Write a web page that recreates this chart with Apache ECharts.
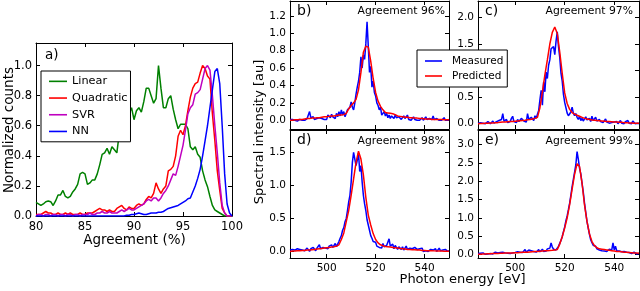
<!DOCTYPE html>
<html><head><meta charset="utf-8">
<script src="https://cdn.jsdelivr.net/npm/echarts@6/dist/echarts.min.js"></script>
<style>html,body{margin:0;padding:0;background:#fff}#chart{width:640px;height:291px}</style>
</head><body><div id="chart"></div>
<script>
// ---------- Panel a: histogram of agreement (x grid 80..100 step 0.25) ----------
const linearCounts = [
  0.09,0.08,0.07,0.08, 0.095,0.10,0.095,0.07, 0.10,0.14,0.14,0.17, 0.13,0.12,0.13,0.16,
  0.18,0.21,0.28,0.29, 0.28,0.21,0.22,0.24, 0.24,0.28,0.34,0.41, 0.42,0.45,0.41,0.46,
  0.44,0.42,0.55,0.61, 0.59,0.62,0.68,0.72, 0.64,0.70,0.72,0.69, 0.76,0.85,0.85,0.80,
  0.75,0.78,1.00,0.85, 0.72,0.72,0.78,0.80, 0.71,0.64,0.58,0.61, 0.61,0.61,0.58,0.46,
  0.44,0.46,0.41,0.39, 0.30,0.24,0.195,0.13, 0.07,0.04,0.03,0.02, 0.01,0.00,0.00,0.00, 0.00];
const quadraticCounts = [
  0.01,0.01,0.01,0.02, 0.03,0.02,0.02,0.01, 0.01,0.02,0.01,0.01, 0.02,0.01,0.02,0.01,
  0.01,0.01,0.02,0.01, 0.01,0.02,0.02,0.02, 0.03,0.04,0.05,0.04, 0.04,0.03,0.04,0.03,
  0.03,0.05,0.06,0.07, 0.05,0.04,0.06,0.05, 0.05,0.07,0.08,0.07, 0.08,0.11,0.13,0.12,
  0.15,0.22,0.18,0.15, 0.18,0.20,0.30,0.31, 0.33,0.40,0.53,0.57, 0.54,0.60,0.70,0.79,
  0.85,0.88,0.89,0.95, 1.00,0.98,0.93,0.91, 0.68,0.50,0.30,0.17, 0.05,0.02,0.00,0.00, 0.00];
const svrCounts = [
  0.00,0.01,0.01,0.00, 0.01,0.01,0.00,0.01, 0.01,0.00,0.01,0.01, 0.00,0.01,0.01,0.00,
  0.01,0.01,0.00,0.01, 0.01,0.01,0.02,0.01, 0.01,0.02,0.02,0.03, 0.02,0.02,0.03,0.02,
  0.02,0.02,0.03,0.04, 0.03,0.04,0.05,0.04, 0.04,0.05,0.06,0.07, 0.08,0.10,0.11,0.10,
  0.12,0.12,0.10,0.12, 0.15,0.17,0.20,0.24, 0.28,0.27,0.33,0.40, 0.47,0.57,0.68,0.72,
  0.74,0.81,0.82,0.84, 0.91,0.98,1.00,0.97, 0.80,0.60,0.42,0.22, 0.07,0.02,0.00,0.00, 0.00];
const nnCounts = [
  0,0,0,0, 0,0,0,0, 0,0,0,0, 0,0,0,0, 0,0,0,0, 0,0,0,0, 0,0,0,0, 0,0,0,0, 0,0,0,0,
  0,0.005,0.005,0.01, 0.01,0.015,0.02,0.015, 0.01,0.01,0.015,0.02, 0.02,0.02,0.025,0.025,
  0.03,0.04,0.05,0.055, 0.06,0.065,0.07,0.08, 0.09,0.10,0.115,0.12, 0.16,0.20,0.25,0.31,
  0.40,0.50,0.60,0.72, 0.84,0.96,0.98,0.88, 0.60,0.28,0.08,0.02, 0.00];

// ---------- Spectra: measured at 0.5 eV (485..550), predicted at 1 eV ----------
const measuredB = [
  0.01,0.00,0.01,0.00,0.00,0.01,-0.01,0.00,0.01,0.00,
  0.00,0.01,0.00,0.01,0.02,0.04,0.10,0.03,0.02,0.04,
  0.01,0.03,0.02,0.00,0.03,0.01,0.02,0.00,0.01,0.03,
  0.01,0.06,0.08,0.03,0.07,0.04,0.06,0.02,0.08,0.04,
  0.10,0.05,0.12,0.06,0.10,0.04,0.08,0.12,0.10,0.15,
  0.21,0.15,0.12,0.20,0.30,0.38,0.45,0.55,0.73,0.60,
  0.75,0.70,0.88,1.13,0.85,0.55,0.62,0.38,0.45,0.32,
  0.28,0.20,0.17,0.12,0.15,0.06,0.04,0.10,0.05,0.08,
  0.03,0.06,0.02,0.05,0.04,0.02,0.06,0.03,0.01,0.04,
  0.03,0.01,0.03,0.05,0.02,0.04,0.06,0.01,0.03,0.00,
  0.02,0.04,0.01,0.03,0.00,0.02,0.00,0.01,0.03,0.00,
  0.01,0.04,0.01,0.00,0.02,0.00,0.01,0.05,0.01,0.00,
  0.02,0.04,0.00,0.02,0.00,0.01,0.03,0.00,0.01,0.00,
  0.01];
const predictedB = [
  0.00,0.00,0.005,0.005,0.01, 0.01,0.015,0.02,0.02,0.025, 0.025,0.03,0.03,0.035,0.04,
  0.04,0.045,0.05,0.05,0.055, 0.06,0.06,0.065,0.08,0.13, 0.17,0.20,0.24,0.35,0.55,
  0.78,0.85,0.84,0.68,0.48, 0.32,0.22,0.16,0.12,0.09, 0.085,0.08,0.075,0.065,0.05,
  0.045,0.04,0.035,0.035,0.03, 0.03,0.025,0.025,0.02,0.02, 0.015,0.015,0.015,0.01,0.01,
  0.01,0.01,0.01,0.005,0.005, 0.005];
const measuredC = [
  0.01,0.00,0.02,0.00,0.01,0.03,0.00,0.02,0.04,0.01,
  0.00,0.03,0.05,0.01,0.02,0.04,0.01,0.06,0.03,0.08,
  0.19,0.05,0.03,0.08,0.02,0.05,0.04,0.10,0.14,0.04,
  0.06,0.02,0.08,0.04,0.03,0.10,0.13,0.05,0.08,0.03,
  0.19,0.08,0.05,0.12,0.09,0.06,0.15,0.10,0.18,0.25,
  0.45,0.63,0.35,0.79,0.60,0.97,0.85,1.10,1.20,1.41,
  1.38,1.45,1.30,1.55,1.73,1.45,1.25,0.95,0.80,0.55,
  0.40,0.30,0.20,0.15,0.18,0.22,0.31,0.20,0.15,0.19,
  0.12,0.08,0.14,0.06,0.10,0.05,0.09,0.13,0.07,0.05,
  0.10,0.04,0.14,0.06,0.09,0.12,0.05,0.03,0.08,0.04,
  0.06,0.02,0.05,0.09,0.03,0.05,0.01,0.04,0.02,0.05,
  0.03,0.01,0.04,0.00,0.03,0.06,0.01,0.02,0.00,0.04,
  0.02,0.06,0.01,0.03,0.00,0.05,0.02,0.00,0.03,0.01,
  0.00];
const predictedC = [
  0.00,0.005,0.005,0.01,0.01, 0.015,0.015,0.02,0.02,0.025, 0.03,0.03,0.035,0.04,0.04,
  0.045,0.05,0.055,0.06,0.065, 0.075,0.08,0.09,0.10,0.12, 0.30,0.60,0.92,1.20,1.50,
  1.72,1.82,1.70,1.35,0.95, 0.58,0.38,0.27,0.21,0.18, 0.16,0.14,0.12,0.10,0.09,
  0.08,0.07,0.065,0.06,0.055, 0.05,0.045,0.04,0.04,0.035, 0.03,0.03,0.025,0.025,0.02,
  0.02,0.015,0.015,0.01,0.01, 0.01];
const measuredD = [
  0.02,0.00,0.03,0.01,0.02,0.00,0.04,0.01,0.03,0.00,
  0.02,0.04,0.01,0.03,0.05,0.02,0.00,0.04,0.02,0.06,
  0.03,0.01,0.05,0.02,0.10,0.04,0.02,0.06,0.03,0.05,
  0.07,0.04,0.08,0.05,0.10,0.06,0.09,0.12,0.07,0.11,
  0.15,0.20,0.24,0.32,0.36,0.45,0.50,0.62,0.75,0.85,
  1.05,1.35,1.50,1.40,1.30,1.38,1.49,1.21,1.30,1.05,
  0.85,0.72,0.62,0.48,0.40,0.32,0.24,0.20,0.15,0.13,
  0.14,0.08,0.10,0.06,0.09,0.05,0.12,0.07,0.10,0.09,
  0.06,0.19,0.08,0.05,0.11,0.04,0.09,0.06,0.03,0.07,
  0.05,0.03,0.07,0.02,0.05,0.08,0.03,0.01,0.05,0.02,
  0.04,0.02,0.06,0.09,0.03,0.01,0.04,0.02,0.05,0.00,
  0.03,0.01,0.04,0.00,0.02,0.03,0.00,0.02,0.01,0.04,
  0.00,0.02,0.05,0.01,0.00,0.02,0.00,0.03,0.01,0.00,
  0.01];
const predictedD = [
  0.00,0.005,0.005,0.01,0.01, 0.015,0.015,0.02,0.02,0.025, 0.03,0.035,0.04,0.045,0.05,
  0.055,0.06,0.065,0.07,0.08, 0.10,0.18,0.28,0.45,0.62, 0.85,1.10,1.35,1.52,1.40,
  1.16,0.82,0.55,0.40,0.27, 0.18,0.13,0.10,0.085,0.075, 0.07,0.065,0.06,0.055,0.05,
  0.045,0.04,0.035,0.03,0.03, 0.025,0.025,0.02,0.02,0.015, 0.015,0.01,0.01,0.01,0.008,
  0.006,0.005,0.005,0.004,0.003, 0.003];
const measuredE = [
  0.02,0.00,0.03,0.01,0.04,0.02,0.00,0.03,0.01,0.04,
  0.02,0.05,0.01,0.03,0.06,0.02,0.04,0.01,0.05,0.03,
  0.06,0.02,0.04,0.07,0.03,0.05,0.02,0.06,0.04,0.08,
  0.05,0.03,0.07,0.04,0.06,0.10,0.05,0.08,0.13,0.06,
  0.09,0.12,0.07,0.10,0.05,0.08,0.11,0.06,0.09,0.13,
  0.07,0.10,0.14,0.08,0.12,0.09,0.15,0.11,0.17,0.31,
  0.20,0.14,0.13,0.12,0.15,0.22,0.30,0.38,0.48,0.62,
  0.75,0.92,1.05,1.22,1.40,1.62,1.85,2.05,2.25,2.45,
  2.81,2.60,2.35,2.20,1.95,1.70,1.40,1.15,0.90,0.72,
  0.55,0.40,0.32,0.25,0.20,0.22,0.15,0.18,0.12,0.14,
  0.10,0.13,0.09,0.12,0.08,0.10,0.14,0.09,0.12,0.31,
  0.12,0.22,0.10,0.06,0.09,0.05,0.07,0.04,0.08,0.05,
  0.06,0.03,0.05,0.07,0.02,0.04,0.06,0.03,0.01,0.04,
  0.02];
const predictedE = [
  0.00,0.005,0.01,0.01,0.015, 0.015,0.02,0.02,0.025,0.03, 0.03,0.035,0.035,0.04,0.04,
  0.045,0.045,0.05,0.055,0.055, 0.06,0.065,0.07,0.075,0.08, 0.085,0.09,0.095,0.10,0.105,
  0.11,0.12,0.13,0.28,0.48, 0.72,1.00,1.36,1.78,2.19, 2.48,2.40,1.95,1.35,0.90,
  0.56,0.35,0.24,0.18,0.15, 0.14,0.13,0.12,0.11,0.10, 0.09,0.08,0.075,0.07,0.06,
  0.055,0.05,0.045,0.04,0.035, 0.03];

// ---------- tick labels ----------
const agreementTicks = [80, 85, 90, 95, 100];
const countTicks = [0, 0.2, 0.4, 0.6, 0.8, 1.0];
const energyTicks = [500, 520, 540];
const intensityTicksB = [0, 0.2, 0.4, 0.6, 0.8, 1.0, 1.2];
const intensityTicksC = [0, 0.5, 1.0, 1.5, 2.0];
const intensityTicksD = [0, 0.5, 1.0, 1.5];
const intensityTicksE = [0, 0.5, 1.0, 1.5, 2.0, 2.5, 3.0];
const methodNames = ['Linear', 'Quadratic', 'SVR', 'NN'];
const agreementTexts = ['Agreement 96%', 'Agreement 97%', 'Agreement 98%', 'Agreement 99%'];

// sampling grids (x positions)
function sampleGrid(start, step, n) { const a = []; for (let i = 0; i < n; i++) a.push(+(start + step * i).toFixed(2)); return a; }
const agreementX = sampleGrid(80, 0.25, linearCounts.length);
const energyFine = sampleGrid(485, 0.5, measuredB.length);
const energyCoarse = sampleGrid(485, 1, predictedB.length);
function pairs(xs, ys) { return ys.map((y, i) => [xs[i], y]); }

const FONT = 'DejaVu Sans';
const panels = [
  {left:36, top:43, width:196, height:173, xMin:80, xMax:100, yMin:0, yMax:1.15, xTicks:agreementTicks, yTicks:countTicks, xLabels:true, xDec:0, yDec:1, font:11.5},
  {left:290, top:1, width:159, height:128, xMin:485, xMax:550, yMin:-0.1, yMax:1.37, xTicks:energyTicks, yTicks:intensityTicksB, xLabels:false, xDec:0, yDec:1, font:10.5},
  {left:478, top:1, width:161, height:128, xMin:485, xMax:550, yMin:-0.1, yMax:2.31, xTicks:energyTicks, yTicks:intensityTicksC, xLabels:false, xDec:0, yDec:1, font:10.5},
  {left:290, top:130, width:159, height:128, xMin:485, xMax:550, yMin:-0.1, yMax:1.84, xTicks:energyTicks, yTicks:intensityTicksD, xLabels:true, xDec:0, yDec:1, font:10.5},
  {left:478, top:130, width:161, height:128, xMin:485, xMax:550, yMin:-0.1, yMax:3.4, xTicks:energyTicks, yTicks:intensityTicksE, xLabels:true, xDec:0, yDec:1, font:10.5}
];

function axis(isX, p, gi, pos, labels) {
  const ticks = isX ? p.xTicks : p.yTicks;
  const dec = isX ? p.xDec : p.yDec;
  return {
    type: 'value', gridIndex: gi, position: pos,
    min: isX ? p.xMin : p.yMin, max: isX ? p.xMax : p.yMax,
    axisLine: {show: true, onZero: false, lineStyle: {color: '#000', width: 1}},
    axisTick: {show: true, inside: true, length: 4, customValues: ticks, lineStyle: {color: '#000', width: 1}},
    axisLabel: {show: labels, customValues: ticks, formatter: v => Number(v).toFixed(dec),
      color: '#000', fontFamily: FONT, fontSize: p.font, margin: isX ? 5 : 4},
    splitLine: {show: false}, splitArea: {show: false}
  };
}

const grids = [], xAxes = [], yAxes = [];
panels.forEach((p, gi) => {
  grids.push({left: p.left, top: p.top, width: p.width, height: p.height, containLabel: false, outerBoundsMode: 'none', show: false});
  xAxes.push(axis(true, p, gi, 'bottom', p.xLabels));
  xAxes.push(axis(true, p, gi, 'top', false));
  yAxes.push(axis(false, p, gi, 'left', true));
  yAxes.push(axis(false, p, gi, 'right', false));
});

function line(name, data, color, gi, z) {
  return {type: 'line', name, data, xAxisIndex: 2 * gi, yAxisIndex: 2 * gi, symbol: 'none', showSymbol: false,
    lineStyle: {color, width: 1.5}, itemStyle: {color}, z: z || 2, silent: true, animation: false, clip: true};
}

const series = [
  line(methodNames[0], pairs(agreementX, linearCounts), '#008000', 0),
  line(methodNames[1], pairs(agreementX, quadraticCounts), '#ff0000', 0),
  line(methodNames[2], pairs(agreementX, svrCounts), '#bf00bf', 0),
  line(methodNames[3], pairs(agreementX, nnCounts), '#0000ff', 0)
];
const measured = [measuredB, measuredC, measuredD, measuredE];
const predicted = [predictedB, predictedC, predictedD, predictedE];
for (let k = 0; k < 4; k++) {
  series.push(line('Measured', pairs(energyFine, measured[k]), '#0000ff', k + 1, 2));
  series.push(line('Predicted', pairs(energyCoarse, predicted[k]), '#ff0000', k + 1, 3));
}

function txt(text, x, y, size, align, rot) {
  return {type: 'text', x, y, rotation: rot || 0, z: 10,
    style: {text, fill: '#000', fontFamily: FONT, fontSize: size, align: align || 'center', verticalAlign: 'middle'}};
}
const graphics = [
  txt('Normalized counts', 9, 130, 13.5, 'center', Math.PI / 2),
  txt('Agreement (%)', 134.5, 240, 13.5, 'center'),
  txt('Spectral intensity [au]', 260, 132, 13, 'center', Math.PI / 2),
  txt('Photon energy [eV]', 462.5, 280, 13, 'center'),
  txt('a)', 45, 55.5, 13.5, 'left'),
  txt('b)', 297, 11.5, 14, 'left'),
  txt('c)', 485, 11.5, 14, 'left'),
  txt('d)', 297, 140.7, 14, 'left'),
  txt('e)', 485, 140.7, 14, 'left'),
  txt(agreementTexts[0], 445, 11.5, 10.8, 'right'),
  txt(agreementTexts[1], 633, 11.5, 10.8, 'right'),
  txt(agreementTexts[2], 445, 140.7, 10.8, 'right'),
  txt(agreementTexts[3], 633, 140.7, 10.8, 'right')
];

const chart = echarts.init(document.getElementById('chart'), null, {renderer: 'canvas'});
chart.setOption({
  animation: false,
  backgroundColor: '#fff',
  grid: grids, xAxis: xAxes, yAxis: yAxes, series,
  legend: [
    {data: methodNames, orient: 'vertical', left: 41, top: 71, icon: 'rect', itemWidth: 18, itemHeight: 1.6, itemGap: 0,
      padding: [2, 3, 2, 8], borderColor: '#000', borderWidth: 1, backgroundColor: '#fff', selectedMode: false, z: 8,
      textStyle: {fontFamily: FONT, fontSize: 11.3, color: '#000', lineHeight: 16.7}},
    {data: ['Measured', 'Predicted'], orient: 'vertical', left: 417, top: 50, icon: 'rect', itemWidth: 17, itemHeight: 1.6, itemGap: 0,
      padding: [3.5, 4, 3.5, 8], borderColor: '#000', borderWidth: 1, backgroundColor: '#fff', selectedMode: false, z: 8,
      textStyle: {fontFamily: FONT, fontSize: 10.5, color: '#000', lineHeight: 15, padding: [0, 0, 0, 5]}}
  ],
  graphic: graphics
});
</script></body></html>
